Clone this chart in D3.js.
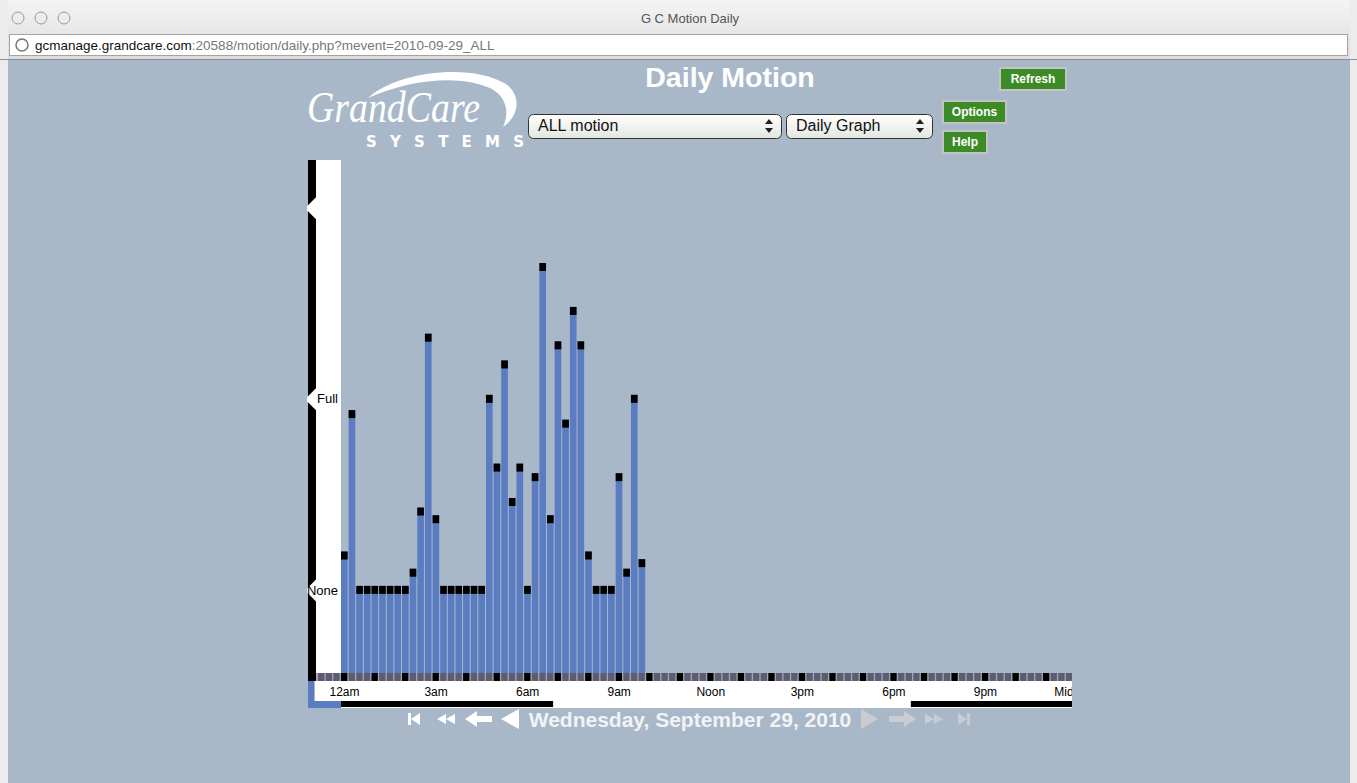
<!DOCTYPE html>
<meta charset="utf-8">
<style>
  body { margin: 0; background: #a9b8c8; overflow: hidden; }
  svg { display: block; }
</style>
<body>
<div id="canvas"></div>
</body>
<script src="https://d3js.org/d3.v7.min.js"></script>
<script>

// motion level for each 15 minute slot starting at 12am (0 = None, 100 = Full)
var slotLevels = [18, 92, 0, 0, 0, 0, 0, 0, 0, 9, 41, 132, 37, 0, 0, 0, 0, 0, 0,
                  100, 64, 118, 46, 64, 0, 59, 169, 37, 128, 87, 146, 128, 18,
                  0, 0, 0, 59, 9, 100, 14];

var levelTicks = [0, 100, 200];
var levelLabels = ["None", "Full", ""];

var hourTicks = [0, 3, 6, 9, 12, 15, 18, 21, 24];
var hourLabels = ["12am", "3am", "6am", "9am", "Noon", "3pm", "6pm", "9pm", "Midnight"];

// dark hours (sunset -> sunrise), in hours
var nightSpans = [[0, 6.95], [18.67, 24]];

var W = 1357, H = 783;
var slots = 96;
var sans = "'Liberation Sans', Arial, sans-serif";

var svg = d3.select("#canvas").append("svg")
    .attr("width", W)
    .attr("height", H)
    .style("font-family", sans);

// ---------- browser window chrome ----------
var defs = svg.append("defs");
var tg = defs.append("linearGradient").attr("id", "titlebar").attr("x1", 0).attr("y1", 0).attr("x2", 0).attr("y2", 1);
tg.append("stop").attr("offset", "0%").attr("stop-color", "#f4f4f4");
tg.append("stop").attr("offset", "100%").attr("stop-color", "#dcdcdc");

var sg = defs.append("linearGradient").attr("id", "selectbg").attr("x1", 0).attr("y1", 0).attr("x2", 0).attr("y2", 1);
sg.append("stop").attr("offset", "0%").attr("stop-color", "#ffffff");
sg.append("stop").attr("offset", "100%").attr("stop-color", "#e2e6e0");

svg.append("rect").attr("width", W).attr("height", H).attr("fill", "#a9b8c8");
svg.append("rect").attr("width", W).attr("height", 60).attr("fill", "url(#titlebar)");
svg.append("rect").attr("x", 0).attr("y", 0).attr("width", 8).attr("height", H).attr("fill", "#ececec");
svg.append("rect").attr("x", W - 7).attr("y", 0).attr("width", 7).attr("height", H).attr("fill", "#ececec");
svg.append("line").attr("x1", 0).attr("x2", W).attr("y1", 59.5).attr("y2", 59.5).attr("stroke", "#8e8e8e");

[18, 41, 64].forEach(function(cx) {
  svg.append("circle").attr("cx", cx).attr("cy", 18).attr("r", 6)
    .attr("fill", "#ececec").attr("stroke", "#9a9a9a");
});
svg.append("text").attr("x", 690).attr("y", 23).attr("text-anchor", "middle")
  .attr("font-size", 13).attr("fill", "#555").text("G C Motion Daily");

svg.append("rect").attr("x", 9.5).attr("y", 34.5).attr("width", 1338).attr("height", 21)
  .attr("fill", "#fff").attr("stroke", "#a4a4a4");
svg.append("circle").attr("cx", 22).attr("cy", 45).attr("r", 6)
  .attr("fill", "none").attr("stroke", "#777").attr("stroke-width", 1.5);
var url = svg.append("text").attr("x", 35).attr("y", 50).attr("font-size", 13.5);
url.append("tspan").attr("fill", "#111").text("gcmanage.grandcare.com");
url.append("tspan").attr("fill", "#777").text(":20588/motion/daily.php?mevent=2010-09-29_ALL");

// ---------- page header ----------
svg.append("path")
  .attr("d", "M368,98 C395,72 470,62 506,84 C522,96 519,116 503,127 C510,112 506,97 492,89 C462,74 410,79 368,98 Z")
  .attr("fill", "#fff");
svg.append("text").attr("x", 307).attr("y", 122)
  .style("font-family", "'Liberation Serif', 'Times New Roman', serif").attr("font-style", "italic")
  .attr("font-size", 44).attr("fill", "#fff")
  .attr("textLength", 173).attr("lengthAdjust", "spacingAndGlyphs")
  .text("GrandCare");
svg.append("text").attr("x", 366).attr("y", 147)
  .style("font-family", "'DejaVu Sans', sans-serif").attr("font-weight", "bold")
  .attr("font-size", 15).attr("fill", "#fff")
  .attr("textLength", 158).attr("lengthAdjust", "spacing")
  .text("SYSTEMS");

svg.append("text").attr("x", 730).attr("y", 87).attr("text-anchor", "middle")
  .attr("font-weight", "bold").attr("font-size", 28.5).attr("fill", "#fff")
  .text("Daily Motion");

function selectBox(x, w, label) {
  var g = svg.append("g");
  g.append("rect").attr("x", x + 0.5).attr("y", 114.5).attr("width", w).attr("height", 24)
    .attr("rx", 5).attr("fill", "url(#selectbg)").attr("stroke", "#333");
  g.append("text").attr("x", x + 10).attr("y", 131).attr("font-size", 16).attr("fill", "#111").text(label);
  var ax = x + w - 12;
  g.append("path").attr("d", "M" + (ax - 4) + ",124 L" + (ax + 4) + ",124 L" + ax + ",119 Z").attr("fill", "#222");
  g.append("path").attr("d", "M" + (ax - 4) + ",128 L" + (ax + 4) + ",128 L" + ax + ",133 Z").attr("fill", "#222");
}
selectBox(528, 253, "ALL motion");
selectBox(786, 146, "Daily Graph");

function button(x, y, w, label) {
  var g = svg.append("g");
  g.append("rect").attr("x", x).attr("y", y).attr("width", w).attr("height", 24).attr("fill", "#c4c4c4");
  g.append("rect").attr("x", x + 2).attr("y", y + 2).attr("width", w - 4).attr("height", 20).attr("fill", "#3c8b27");
  g.append("text").attr("x", x + w / 2).attr("y", y + 16).attr("text-anchor", "middle")
    .attr("font-weight", "bold").attr("font-size", 12).attr("fill", "#fff").text(label);
}
button(999, 67, 68, "Refresh");
button(942, 100, 65, "Options");
button(942, 130, 46, "Help");

// ---------- chart ----------
var x = d3.scaleLinear().domain([0, slots]).range([341, 1073.5]);
var pitch = x(1) - x(0);
var hourX = d3.scaleLinear().domain([0, 24]).range(x.range());
var y = d3.scaleLinear().domain([-43.5, 225]).range([673, 160]);
var right = 1072;

defs.append("clipPath").attr("id", "chartclip")
  .append("rect").attr("x", 300).attr("y", 150).attr("width", right - 300).attr("height", 570);

var chart = svg.append("g").attr("clip-path", "url(#chartclip)");

// left scale column
chart.append("rect").attr("x", 308).attr("y", 160).attr("width", 8).attr("height", 521).attr("fill", "#000");
chart.append("rect").attr("x", 316).attr("y", 160).attr("width", 25).attr("height", 513).attr("fill", "#fff");

// bottom label band and day/night bar
chart.append("rect").attr("x", 315).attr("y", 681).attr("width", right - 315).attr("height", 27).attr("fill", "#fff");
chart.append("rect").attr("x", 308).attr("y", 681).attr("width", 6).attr("height", 27).attr("fill", "#5b7cc0");
chart.append("rect").attr("x", 308).attr("y", 701).attr("width", 33).attr("height", 7).attr("fill", "#5b7cc0");
chart.selectAll(".night").data(nightSpans).enter().append("rect")
  .attr("class", "night")
  .attr("x", function(d) { return hourX(d[0]); })
  .attr("width", function(d) { return hourX(d[1]) - hourX(d[0]); })
  .attr("y", 701).attr("height", 6).attr("fill", "#000");

// slot strip under the bars
chart.append("rect").attr("x", 316).attr("y", 673).attr("width", right - 316).attr("height", 8).attr("fill", "#a4a6b2");
chart.selectAll(".slot").data(d3.range(-3, slots)).enter().append("rect")
  .attr("class", "slot")
  .attr("x", function(d) { return x(d); })
  .attr("width", pitch - 1.3)
  .attr("y", 673).attr("height", 8)
  .attr("fill", function(d) { return d >= 0 && d % 4 === 0 ? "#000" : "#5d5c70"; });

// bars
var bars = chart.selectAll(".bar").data(slotLevels).enter().append("g").attr("class", "bar");
bars.append("rect")
  .attr("x", function(d, i) { return x(i); })
  .attr("width", pitch - 1)
  .attr("y", function(d) { return y(d) - 4; })
  .attr("height", function(d) { return y.range()[0] - (y(d) - 4); })
  .attr("fill", "#5b7cc0");
bars.append("rect")
  .attr("x", function(d, i) { return x(i); })
  .attr("width", pitch - 1)
  .attr("y", function(d) { return y(d) - 4; })
  .attr("height", 8)
  .attr("fill", "#000");

// level axis
var yAxis = chart.append("g")
  .attr("transform", "translate(341,0)")
  .call(d3.axisLeft(y).tickValues(levelTicks)
    .tickFormat(function(d, i) { return levelLabels[i]; })
    .tickSize(0).tickPadding(3));
yAxis.select(".domain").remove();
yAxis.selectAll(".tick").insert("path", "text")
  .attr("d", "M-24,-12 L-28,-8 L-34,-2 L-34,2 L-28,8 L-24,12 Z")
  .attr("fill", "#fff");
yAxis.selectAll(".tick text")
  .style("font-family", sans)
  .attr("font-size", 13).attr("fill", "#000");

// hour axis
var xAxis = chart.append("g")
  .attr("transform", "translate(3,681)")
  .call(d3.axisBottom(hourX).tickValues(hourTicks)
    .tickFormat(function(d, i) { return hourLabels[i]; })
    .tickSize(0).tickPadding(6));
xAxis.select(".domain").remove();
xAxis.selectAll(".tick text")
  .style("font-family", sans)
  .attr("font-size", 12).attr("fill", "#000");

// ---------- date navigation ----------
var nav = svg.append("g");
var on = "#ffffff", off = "#c9cdd3";
nav.append("rect").attr("x", 408).attr("y", 713).attr("width", 3).attr("height", 12).attr("fill", on);
nav.append("path").attr("d", "M411,719 L420,713 L420,725 Z").attr("fill", on);
nav.append("path").attr("d", "M437,719 L446,714 L446,724 Z M446,719 L455,714 L455,724 Z").attr("fill", on);
nav.append("path").attr("d", "M465,719 L477,711 L477,716 L492,716 L492,722 L477,722 L477,727 Z").attr("fill", on);
nav.append("path").attr("d", "M501,719 L519,709 L519,729 Z").attr("fill", on);

nav.append("text").attr("x", 690).attr("y", 727).attr("text-anchor", "middle")
  .attr("font-weight", "bold").attr("font-size", 21).attr("fill", "#f2f3f5")
  .text("Wednesday, September 29, 2010");

nav.append("path").attr("d", "M878,719 L861,709 L861,729 Z").attr("fill", off);
nav.append("path").attr("d", "M916,719 L904,711 L904,716 L889,716 L889,722 L904,722 L904,727 Z").attr("fill", off);
nav.append("path").attr("d", "M943,719 L934,714 L934,724 Z M934,719 L925,714 L925,724 Z").attr("fill", off);
nav.append("path").attr("d", "M967,719 L958,713 L958,725 Z").attr("fill", off);
nav.append("rect").attr("x", 967).attr("y", 713).attr("width", 3).attr("height", 12).attr("fill", off);

</script>
